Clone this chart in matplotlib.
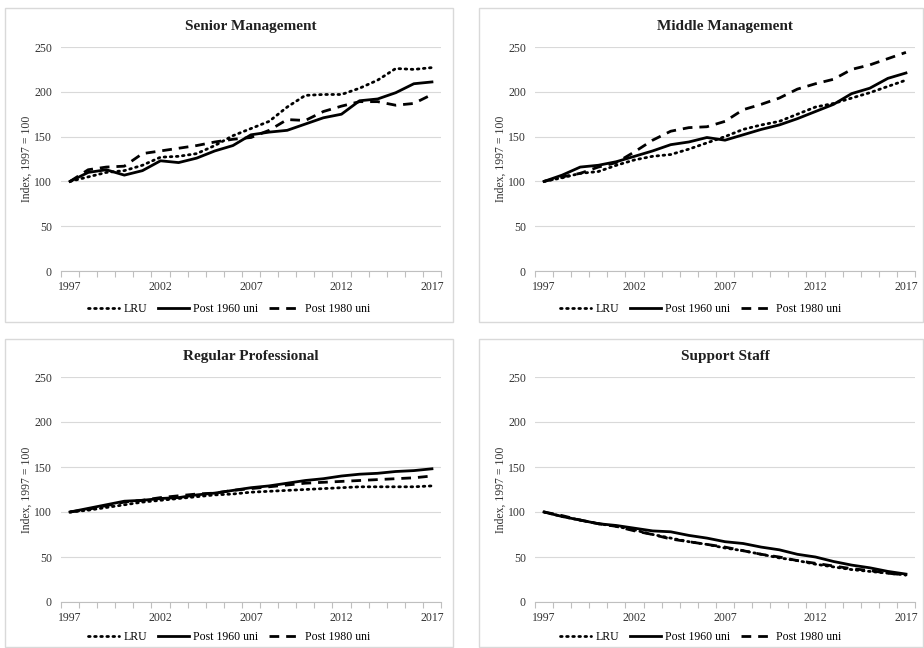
import matplotlib
matplotlib.use("Agg")
import matplotlib.pyplot as plt
from matplotlib.patches import Rectangle
import numpy as np

plt.rcParams['font.family'] = ['Liberation Serif', 'DejaVu Serif']

years = list(range(1997, 2018))
tick_years = [1997, 2002, 2007, 2012, 2017]
series_names = ["LRU", "Post 1960 uni", "Post 1980 uni"]

senior_lru = [100, 105, 110, 112, 118, 127, 128, 131, 140, 151, 159, 167, 183, 196, 197, 197, 204, 213, 226, 225, 227]
senior_1960 = [100, 110, 113, 107, 112, 123, 121, 126, 134, 140, 152, 155, 157, 164, 171, 175, 190, 192, 199, 209, 211]
senior_1980 = [100, 113, 116, 117, 131, 134, 137, 140, 144, 147, 149, 157, 169, 168, 178, 184, 189, 189, 185, 187, 197]

middle_lru = [100, 104, 109, 111, 118, 124, 128, 130, 136, 143, 150, 158, 163, 167, 175, 183, 187, 193, 199, 206, 213]
middle_1960 = [100, 107, 116, 118, 122, 128, 134, 141, 144, 149, 146, 152, 158, 163, 170, 178, 186, 198, 204, 215, 221]
middle_1980 = [100, 105, 109, 116, 121, 133, 146, 156, 160, 161, 167, 180, 186, 193, 203, 209, 214, 225, 230, 237, 244]

regular_lru = [100, 102, 105, 108, 111, 113, 115, 117, 119, 120, 122, 123, 124, 125, 126, 127, 128, 128, 128, 128, 129]
regular_1960 = [100, 104, 108, 112, 113, 115, 116, 119, 121, 124, 127, 129, 132, 135, 137, 140, 142, 143, 145, 146, 148]
regular_1980 = [100, 103, 107, 111, 113, 116, 118, 120, 121, 124, 126, 128, 130, 132, 133, 134, 135, 136, 137, 138, 140]

support_lru = [100, 95, 91, 87, 84, 80, 75, 71, 67, 64, 60, 57, 53, 49, 46, 42, 39, 36, 34, 32, 30]
support_1960 = [100, 95, 91, 87, 85, 82, 79, 78, 74, 71, 67, 65, 61, 58, 53, 50, 45, 41, 38, 34, 31]
support_1980 = [100, 96, 91, 87, 84, 79, 75, 70, 67, 64, 61, 57, 53, 50, 46, 43, 40, 37, 35, 32, 30]

panels = [
    ("Senior Management", [senior_lru, senior_1960, senior_1980]),
    ("Middle Management", [middle_lru, middle_1960, middle_1980]),
    ("Regular Professional", [regular_lru, regular_1960, regular_1980]),
    ("Support Staff", [support_lru, support_1960, support_1980]),
]

W, H = 924, 648
fig = plt.figure(figsize=(W / 100, H / 100), dpi=100)

def fx(px):
    return px / W

def fy(py):
    return 1 - py / H

# panel frames (x0, y0, x1, y1) in pixels
frames = [(5, 8, 453, 322), (479, 8, 923, 322), (5, 339, 453, 647), (479, 339, 923, 647)]
# axes boxes (left, top, right, bottom) in pixels
boxes = [(61, 47, 441, 271), (535, 47, 915, 271), (61, 377, 441, 602), (535, 377, 915, 602)]
legend_y = [309, 309, 637, 637]

styles = [
    dict(linestyle=(0, (0.6, 1.6)), dash_capstyle='round', linewidth=2.0),
    dict(linestyle='-', linewidth=2.0),
    dict(linestyle=(0, (3.5, 2.5)), linewidth=2.0),
]

grey = '#d9d9d9'
txt = '#333333'

for (title, data), fr, bx, ly in zip(panels, frames, boxes, legend_y):
    fig.patches.append(Rectangle((fx(fr[0]), fy(fr[3])), fx(fr[2] - fr[0]), (fr[3] - fr[1]) / H,
                                 transform=fig.transFigure, fill=False, edgecolor=grey, linewidth=1.0))
    ax = fig.add_axes([fx(bx[0]), fy(bx[3]), fx(bx[2] - bx[0]), (bx[3] - bx[1]) / H])
    x = np.arange(len(years))
    handles = []
    for vals, name, st in zip(data, series_names, styles):
        h, = ax.plot(x, vals, color='black', label=name, **st)
        handles.append(h)
    ax.set_xlim(-0.5, len(years) - 0.5)
    ax.set_ylim(0, 250)
    ax.set_yticks([0, 50, 100, 150, 200, 250])
    ax.set_xticks([years.index(t) for t in tick_years])
    ax.set_xticklabels([str(t) for t in tick_years])
    ax.set_xticks(np.arange(-0.5, len(years), 1.0), minor=True)
    ax.tick_params(axis='x', which='major', length=0, pad=7, labelsize=8.5, colors=txt)
    ax.tick_params(axis='x', which='minor', length=4, width=0.8, color='#bfbfbf', direction='out')
    ax.tick_params(axis='y', length=0, pad=6.5, labelsize=8.5, colors=txt)
    ax.grid(axis='y', color=grey, linewidth=0.8)
    ax.set_axisbelow(True)
    for s in ['top', 'right', 'left']:
        ax.spines[s].set_visible(False)
    ax.spines['bottom'].set_color('#bfbfbf')
    ax.spines['bottom'].set_linewidth(0.8)
    ax.set_ylabel("Index, 1997 = 100", fontsize=8.5, color=txt, labelpad=1)
    ax.set_title(title, fontsize=11, fontweight='bold', pad=12, color='#202020')
    fig.legend(handles=handles, loc='center', bbox_to_anchor=(fx((fr[0] + fr[2]) / 2), fy(ly)), ncol=3,
               frameon=False, fontsize=8.5, handlelength=2.6, columnspacing=0.9, handletextpad=0.4,
               borderpad=0, borderaxespad=0)

fig.savefig("out.png", dpi=100, facecolor='white')
